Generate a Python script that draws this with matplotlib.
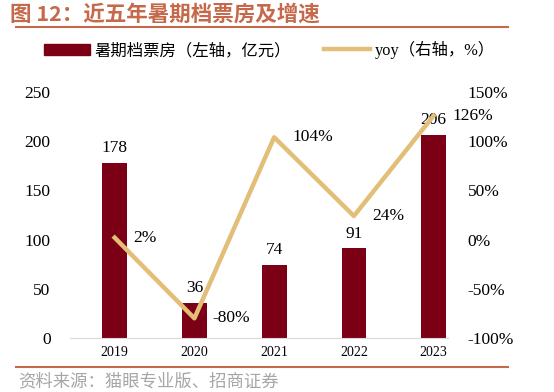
import matplotlib
matplotlib.use("Agg")
import matplotlib.pyplot as plt
from matplotlib.lines import Line2D
from matplotlib.patches import Patch
import numpy as np

years = ["2019", "2020", "2021", "2022", "2023"]
box_office = [178, 36, 74, 91, 206]
yoy = [2, -80, 104, 24, 126]

bar_color = "#7B0015"
line_color = "#E2BE78"
title_color = "#C5694A"
cjk = ["Noto Sans CJK SC", "DejaVu Sans"]
serif = ["Liberation Serif", "Noto Sans CJK SC"]

fig = plt.figure(figsize=(5.54, 3.92), dpi=100)
ax = fig.add_axes([70 / 554, 1 - 338 / 392, 378 / 554, 246 / 392])
x = np.arange(len(years))

ax.bar(x, box_office, width=0.31, color=bar_color, zorder=2)
ax.set_xlim(-0.56, 4.18)
ax.set_ylim(0, 250)
ax.set_yticks(range(0, 251, 50))
ax.set_xticks(x)
ax.set_xticklabels(years, family=serif, fontsize=10)
for lab in ax.get_yticklabels():
    lab.set_family(serif)
    lab.set_fontsize(12.5)
ax.tick_params(axis="both", length=0)
ax.tick_params(axis="y", pad=14)
ax.tick_params(axis="x", pad=6)
for s in ["top", "right", "left"]:
    ax.spines[s].set_visible(False)
ax.spines["bottom"].set_color("#D9D9D9")

for xi, v in zip(x, box_office):
    ax.text(xi, v + 7, str(v), ha="center", va="bottom", family=serif, fontsize=12.5)

ax2 = ax.twinx()
ax2.plot(x, yoy, color=line_color, linewidth=3.2, zorder=3)
ax2.set_ylim(-100, 150)
ax2.set_yticks(range(-100, 151, 50))
ax2.set_yticklabels([f"{t}%" for t in range(-100, 151, 50)], family=serif, fontsize=12.5)
ax2.tick_params(axis="y", length=0, pad=14)
for s in ["top", "right", "left", "bottom"]:
    ax2.spines[s].set_visible(False)

for xi, v in zip(x, yoy):
    ax2.text(xi + 0.23, v, f"{v}%", ha="left", va="center", family=serif, fontsize=12.5)

# title and frame lines
fig.text(10 / 554, 1 - 14 / 392, "图 12：近五年暑期档票房及增速", color=title_color,
         fontsize=15.5, fontweight="bold", family=cjk, va="center", ha="left")
fig.add_artist(Line2D([16 / 554, 508 / 554], [1 - 27 / 392] * 2, color=title_color, linewidth=1.5))
fig.add_artist(Line2D([16 / 554, 508 / 554], [1 - 367 / 392] * 2, color=title_color, linewidth=1.5))
fig.text(18 / 554, 1 - 381 / 392, "资料来源：猫眼专业版、招商证券", color="#A6A6A6",
         fontsize=12.5, family=cjk, va="center", ha="left")

handles = [Patch(color=bar_color), Line2D([], [], color=line_color, linewidth=3.2)]
leg = fig.legend(handles, ["暑期档票房（左轴，亿元）", "yoy（右轴，%）"], ncol=2,
                 loc="center", bbox_to_anchor=(0.486, 1 - 50 / 392), frameon=False,
                 prop={"family": serif, "size": 11.8}, handlelength=2.8, handletextpad=0.3,
                 columnspacing=2.0)

fig.savefig("out.png", dpi=100)
